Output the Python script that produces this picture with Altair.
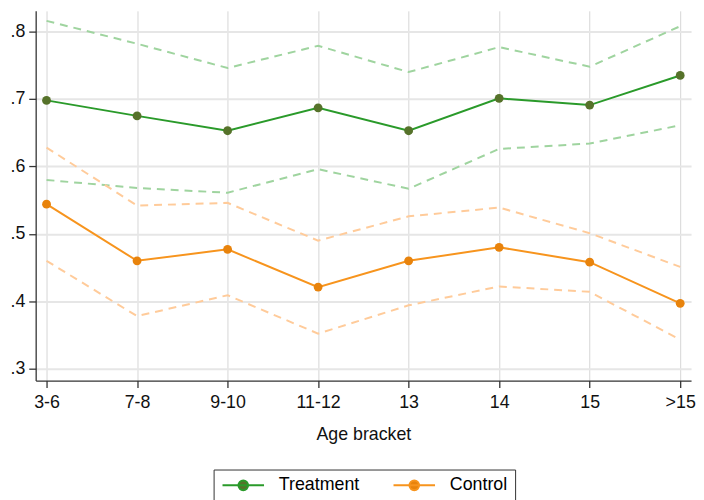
import altair as alt
import pandas as pd

ages = ["3-6", "7-8", "9-10", "11-12", "13", "14", "15", ">15"]
treat_mean = [0.698, 0.675, 0.653, 0.687, 0.653, 0.701, 0.691, 0.735]
treat_hi = [0.816, 0.782, 0.746, 0.779, 0.740, 0.777, 0.748, 0.808]
treat_lo = [0.580, 0.568, 0.561, 0.596, 0.567, 0.626, 0.634, 0.661]
ctrl_mean = [0.544, 0.460, 0.477, 0.421, 0.460, 0.480, 0.458, 0.397]
ctrl_hi = [0.628, 0.542, 0.546, 0.490, 0.526, 0.539, 0.501, 0.451]
ctrl_lo = [0.460, 0.378, 0.409, 0.352, 0.394, 0.422, 0.414, 0.343]
groups = ["Treatment", "Control"]
y_ticks = [0.3, 0.4, 0.5, 0.6, 0.7, 0.8]

main = pd.DataFrame({
    "age": ages * 2,
    "value": treat_mean + ctrl_mean,
    "group": [groups[0]] * len(ages) + [groups[1]] * len(ages),
})

def band(vals):
    return pd.DataFrame({"age": ages, "value": vals})

FONT = "Liberation Sans"
x_enc = alt.X("age:N", sort=ages, scale=alt.Scale(type="point", padding=0.12),
              axis=alt.Axis(title="Age bracket", labelAngle=0, grid=True,
                            gridColor="#d6d6d6", gridWidth=1, tickSize=7,
                            labelPadding=6, titlePadding=15))
y_enc = alt.Y("value:Q", scale=alt.Scale(domain=[0.2824, 0.8308], nice=False, zero=False),
              axis=alt.Axis(title=None, values=y_ticks, grid=True, gridColor="#e6e6e6",
                            gridWidth=2, tickSize=7, labelPadding=4,
                            labelExpr="substring(format(datum.value, '.1f'), 1)"))

dash = [8, 6]
layers = []
for vals, col in [(treat_hi, "#9fd49f"), (treat_lo, "#9fd49f"),
                  (ctrl_hi, "#ffcb9a"), (ctrl_lo, "#ffcb9a")]:
    layers.append(
        alt.Chart(band(vals)).mark_line(strokeDash=dash, strokeWidth=2, color=col)
        .encode(x=x_enc, y=y_enc)
    )

sym = "M-3,0H3M0.7,0A0.7,0.7,0,1,1,-0.7,0A0.7,0.7,0,1,1,0.7,0Z"
leg = dict(title=None, orient="none", legendX=180, legendY=464,
           direction="horizontal", symbolType=sym,
           symbolSize=196, symbolStrokeWidth=2, symbolOffset=14,
           labelFontSize=18, labelFont=FONT, labelOffset=27,
           columnPadding=30, padding=7,
           strokeColor="#333333", fillColor="white")
lines = alt.Chart(main).mark_line(strokeWidth=2).encode(
    x=x_enc, y=y_enc,
    stroke=alt.Stroke("group:N", scale=alt.Scale(domain=groups, range=["#2a9a2a", "#f7941d"]),
                      legend=alt.Legend(**leg)),
)
points = alt.Chart(main).mark_point(filled=True, size=80, opacity=1).encode(
    x=x_enc, y=y_enc,
    fill=alt.Fill("group:N", scale=alt.Scale(domain=groups, range=["#56722a", "#e8830c"]),
                  legend=alt.Legend(**leg)),
)

chart = alt.layer(*layers, lines, points).properties(
    width=663, height=374,
    padding={"left": 1, "top": 0, "right": 0, "bottom": 0},
).configure_view(stroke=None).configure_axis(
    labelFont=FONT, titleFont=FONT, labelFontSize=18, titleFontSize=18,
    labelColor="#111111", titleColor="#111111", domainColor="#333333",
    tickColor="#333333", domainWidth=1.3, tickWidth=1.3, titleFontWeight="normal",
)

chart.save("out.html", embed_options={"renderer": "svg", "actions": False})
